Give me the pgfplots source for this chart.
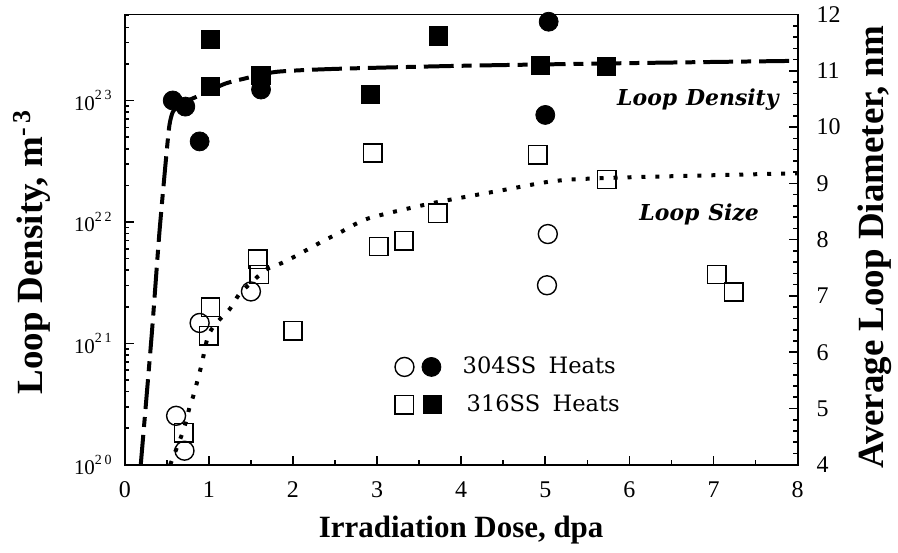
\documentclass[border=0pt]{standalone}
\usepackage{fontspec}
\setmainfont{Liberation Serif}
\newfontfamily\annfont{DejaVu Serif}
\usepackage{pgfplots}
\pgfplotsset{compat=1.18}

\newcommand\tenp[2]{10\raisebox{0.5em}{\fontsize{7}{7}\selectfont #1\hspace{0.2em}#2}}

\begin{document}
\begin{tikzpicture}
\pgfplotsset{
    frame/.style={
        scale only axis, width=337pt, height=225.5pt,
        xmin=0, xmax=8,
        axis line style={line width=0.9pt},
        every tick/.style={black, line width=0.8pt},
        tick align=inside,
        major tick length=4.5pt, minor tick length=2.2pt,
        /pgf/number format/assume math mode=true,
        clip=false,
    },
}
% loop density, log scale on the left
\begin{axis}[
    frame,
    ymode=log, ymin=1e20, ymax=5.1e23,
    xtick={0,...,8}, minor x tick num=1,
    xtick pos=bottom, ytick pos=left,
    ytick={1e20,1e21,1e22,1e23},
    yticklabels={\tenp20,\tenp21,\tenp22,\tenp23},
    minor ytick={2e20,3e20,4e20,5e20,6e20,7e20,8e20,9e20,
                 2e21,3e21,4e21,5e21,6e21,7e21,8e21,9e21,
                 2e22,3e22,4e22,5e22,6e22,7e22,8e22,9e22,
                 2e23,3e23,4e23,5e23},
    xticklabel style={font=\fontsize{12}{12}\selectfont, yshift=-5pt},
    yticklabel style={font=\fontsize{10.5}{10.5}\selectfont, xshift=-3pt},
    xlabel={Irradiation Dose, dpa},
    xlabel style={font=\bfseries\fontsize{15.5}{16}\selectfont,
        at={([yshift=-32.5pt]axis description cs:0.5,0)}, anchor=center},
    ylabel={Loop Density, m\textsuperscript{-\,3}},
    ylabel style={font=\bfseries\fontsize{18.5}{19}\selectfont,
        at={([xshift=-46.5pt]axis description cs:0,0.472)}, anchor=center},
]
% fitted density curve
\addplot[black, line width=2pt, dash pattern=on 15pt off 4pt on 5pt off 4pt, smooth, tension=0.4]
    coordinates {
    (0.19,1e20) (0.32,1.17e21) (0.41,7.9e21) (0.49,3.3e22) (0.53,6.2e22)
    (0.57,8.0e22) (0.65,9.3e22) (0.75,1.0e23) (0.85,1.07e23) (1.0,1.2e23)
    (1.2,1.38e23) (1.4,1.5e23) (1.8,1.72e23) (2.5,1.82e23) (4.0,1.93e23)
    (6.0,2.03e23) (8.0,2.12e23)
};
% 304SS
\addplot[only marks, mark=*, mark size=4.75pt] coordinates {
    (0.57,1.0e23) (0.72,8.9e22) (0.89,4.6e22) (1.62,1.23e23) (5.04,4.45e23) (5.0,7.6e22)
};
% 316SS
\addplot[only marks, mark=square*, mark size=4.6pt] coordinates {
    (1.02,3.2e23) (1.02,1.3e23) (1.62,1.6e23) (2.92,1.12e23) (3.73,3.41e23)
    (4.94,1.95e23) (5.73,1.9e23)
};
\end{axis}

% loop size, linear scale on the right
\begin{axis}[
    frame,
    ymin=4, ymax=12,
    axis x line=none, axis y line*=right,
    ytick={4,...,12}, minor y tick num=4,
    yticklabel style={font=\fontsize{12}{12}\selectfont, xshift=6pt},
    ylabel={Average Loop Diameter, nm},
    ylabel style={font=\bfseries\fontsize{18.5}{19}\selectfont, rotate=0,
        at={([xshift=38.5pt]axis description cs:1,0.483)}, anchor=center},
    legend style={at={(0.40,0.249)}, anchor=north west, draw=none, fill=none,
        inner sep=0pt, row sep=5pt, font=\annfont\fontsize{11.3}{12}\selectfont,
        /tikz/every odd column/.append style={column sep=8.5pt}},
    legend cell align=left,
]
\addlegendimage{legend image code/.code={
    \draw[line width=0.7pt] (4.75pt,0pt) circle[radius=4.75pt];
    \fill (18.25pt,0pt) circle[radius=4.75pt];}}
\addlegendentry{304SS\hspace{0.55em}Heats}
\addlegendimage{legend image code/.code={
    \draw[line width=0.7pt] (0pt,-4.6pt) rectangle (9.2pt,4.6pt);
    \fill (14pt,-4.6pt) rectangle (23.2pt,4.6pt);}}
\addlegendentry{\hspace{2pt}316SS\hspace{0.55em}Heats}
\addplot[forget plot, black, line width=2pt, dash pattern=on 2pt off 5pt, smooth, tension=0.4]
    coordinates {
    (0.54,4.0) (0.68,4.54) (0.73,4.78) (0.77,5.02) (0.82,5.25) (0.91,5.76)
    (0.99,6.29) (1.09,6.52) (1.25,6.77) (1.36,7.03) (1.52,7.26) (1.68,7.47)
    (1.86,7.58) (2.02,7.70) (2.35,7.97) (2.55,8.12) (2.9,8.38) (3.66,8.65)
    (4.53,8.89) (5.0,9.02) (5.32,9.07) (6.03,9.11) (8.0,9.18)
};
\addplot[forget plot, only marks, mark=o, mark size=4.75pt, mark options={line width=0.7pt}] coordinates {
    (0.61,4.87) (0.71,4.25) (0.89,6.52) (1.5,7.08) (5.03,8.10) (5.02,7.19)
};
\addplot[forget plot, only marks, mark=square, mark size=4.6pt, mark options={line width=0.7pt}] coordinates {
    (0.70,4.57) (1.02,6.80) (1.0,6.29) (1.58,7.65) (1.6,7.38) (2.0,6.38)
    (2.95,9.54) (3.02,7.88) (3.32,7.98) (3.72,8.47) (4.91,9.51) (5.73,9.07)
    (7.04,7.38) (7.24,7.07)
};
\node[font=\annfont\bfseries\itshape\fontsize{11}{12}\selectfont] at (axis cs:6.815,10.49) {Loop\hspace{0.4em}Density};
\node[font=\annfont\bfseries\itshape\fontsize{11}{12}\selectfont] at (axis cs:6.83,8.44) {Loop\hspace{0.4em}Size};
\end{axis}
\path ([shift={(-62.5pt,-44pt)}]current axis.south west)
    rectangle ([shift={(49pt,6.5pt)}]current axis.north east);
\end{tikzpicture}
\end{document}
